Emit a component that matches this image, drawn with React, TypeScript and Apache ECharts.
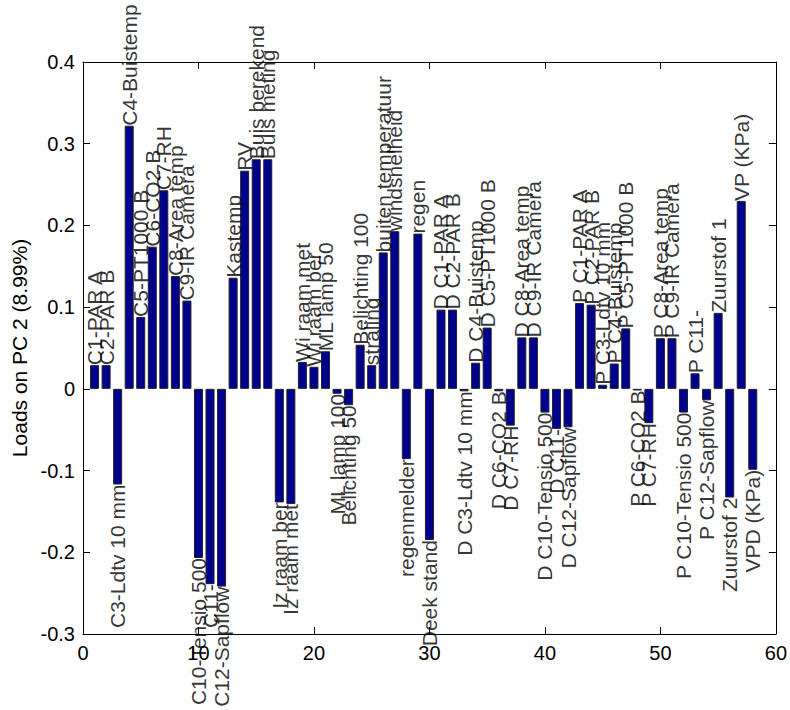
import React, { useEffect, useRef } from "react";
import * as echarts from "echarts";

const names: string[] = [
  "C1-PAR A", "C2-PAR B", "C3-Ldtv 10 mm", "C4-Buistemp", "C5-PT1000 B", "C6-CO2 B",
  "C7-RH", "C8-Area temp", "C9-IR Camera", "C10-Tensio 500", "C11-", "C12-Sapflow",
  "Kastemp", "RV", "Buis berekend", "Buis meting", "Iz raam ber", "Iz raam met",
  "Wi raam met", "Wi raam ber", "ML lamp 50", "ML lamp 100", "Belichting 50", "Belichting 100",
  "straling", "buiten temperatuur", "windsnelheid", "regenmelder", "regen", "Deek stand",
  "D C1-PAR A", "D C2-PAR B", "D C3-Ldtv 10 mm", "D C4-Buistemp", "D C5-PT1000 B", "D C6-CO2 B",
  "D C7-RH", "D C8-Area temp", "D C9-IR Camera", "D C10-Tensio 500", "D C11-", "D C12-Sapflow",
  "P C1-PAR A", "P C2-PAR B", "P C3-Ldtv 10 mm", "P C4-Buistemp", "P C5-PT1000 B", "P C6-CO2 B",
  "P C7-RH", "P C8-Area temp", "P C9-IR Camera", "P C10-Tensio 500", "P C11-", "P C12-Sapflow",
  "Zuurstof 1", "Zuurstof 2", "VP (KPa)", "VPD (KPa)",
];

const loads: number[] = [
  0.029, 0.029, -0.117, 0.322, 0.088, 0.174,
  0.243, 0.138, 0.108, -0.207, -0.239, -0.242,
  0.136, 0.267, 0.281, 0.281, -0.139, -0.141,
  0.033, 0.027, 0.046, -0.006, -0.020, 0.054,
  0.029, 0.167, 0.193, -0.086, 0.190, -0.185,
  0.097, 0.097, -0.003, 0.032, 0.075, -0.003,
  -0.045, 0.063, 0.063, -0.029, -0.049, -0.047,
  0.105, 0.103, 0.005, 0.031, 0.074, -0.002,
  -0.042, 0.062, 0.062, -0.029, 0.019, -0.014,
  0.093, -0.133, 0.230, -0.099,
];

const yAxisTitle = "Loads on PC 2 (8.99%)";
const xMin = 0, xMax = 60, xStep = 10;
const yMin = -0.3, yMax = 0.4, yStep = 0.1;

const FONT = "'Liberation Sans', Arial, Helvetica, sans-serif";

export default function App() {
  const ref = useRef<HTMLDivElement>(null);
  useEffect(() => {
    if (!ref.current) return;
    const chart = echarts.init(ref.current, undefined, { renderer: "svg" });
    const barData = loads.map((v, i) => [i + 1, v]);
    const labelData = loads.map((v, i) => ({
      value: [i + 1, v],
      label: { align: v >= 0 ? "left" : "right" },
    }));
    const axisLineStyle = { color: "#000", width: 1 };
    const tick = { show: true, inside: true, length: 7, lineStyle: { color: "#000" } };
    chart.setOption({
      animation: false,
      backgroundColor: "#fff",
      textStyle: { fontFamily: FONT },
      grid: { left: 83, right: 10, top: 62, bottom: 76, containLabel: false },
      xAxis: [
        {
          type: "value", min: xMin, max: xMax, interval: xStep, position: "bottom",
          axisLine: { show: true, onZero: false, lineStyle: axisLineStyle },
          axisTick: tick, splitLine: { show: false },
          axisLabel: { fontSize: 20, color: "#000", margin: 9, fontFamily: FONT },
        },
        {
          type: "value", min: xMin, max: xMax, interval: xStep, position: "top",
          axisLine: { show: true, onZero: false, lineStyle: axisLineStyle },
          axisTick: tick, splitLine: { show: false }, axisLabel: { show: false },
        },
      ],
      yAxis: [
        {
          type: "value", min: yMin, max: yMax, interval: yStep, position: "left",
          name: yAxisTitle, nameLocation: "middle", nameRotate: 90, nameGap: 47,
          nameTextStyle: { fontSize: 21, color: "#000", fontFamily: FONT },
          axisLine: { show: true, onZero: false, lineStyle: axisLineStyle },
          axisTick: tick, splitLine: { show: false },
          axisLabel: {
            fontSize: 20, color: "#000", margin: 8, fontFamily: FONT,
            formatter: (v: number) => (Math.abs(v) < 1e-9 ? "0" : v.toFixed(1)),
          },
        },
        {
          type: "value", min: yMin, max: yMax, interval: yStep, position: "right",
          axisLine: { show: true, onZero: false, lineStyle: axisLineStyle },
          axisTick: tick, splitLine: { show: false }, axisLabel: { show: false },
        },
      ],
      series: [
        {
          type: "bar",
          xAxisIndex: 0, yAxisIndex: 0,
          data: barData,
          barWidth: 9,
          itemStyle: { color: "#00008F", borderColor: "#222", borderWidth: 1 },
          silent: true,
        },
        {
          type: "scatter",
          xAxisIndex: 0, yAxisIndex: 0,
          data: labelData,
          symbol: "circle",
          symbolSize: 1,
          itemStyle: { color: "transparent" },
          silent: true,
          z: 5,
          label: {
            show: true,
            position: "inside",
            rotate: 90,
            verticalAlign: "middle",
            fontSize: 21,
            color: "#000",
            fontFamily: FONT,
            formatter: (p: any) => names[p.dataIndex],
          },
        },
      ],
    });
    return () => chart.dispose();
  }, []);
  return (
    <div
      ref={ref}
      style={{ position: "absolute", left: 0, top: 0, width: 790, height: 710, background: "#fff" }}
    />
  );
}
